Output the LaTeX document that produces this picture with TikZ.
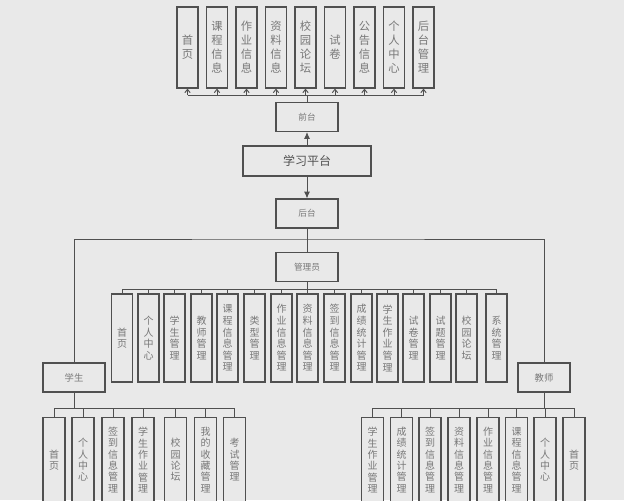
\documentclass[tikz,border=0pt]{standalone}
\usepackage{fontspec}
\setmainfont{Noto Sans CJK SC}
\usetikzlibrary{arrows.meta}
\definecolor{Bggrey}{RGB}{233,233,233}
\definecolor{Linegrey}{RGB}{80,80,80}
\definecolor{Textgrey}{RGB}{120,120,120}

\begin{document}
\begin{tikzpicture}[x=0.75pt,y=-0.75pt,
    box/.style={draw=Linegrey, line width=0.9pt, fill=Bggrey, text=Textgrey, inner sep=0pt, align=center},
    tall/.style={box, minimum width=15.75pt, minimum height=60.75pt, font=\fontsize{8.5}{10.5}\selectfont},
    admcol/.style={box, minimum width=15.75pt, minimum height=66pt, font=\fontsize{7.5}{8.7}\selectfont},
    usrcol/.style={box, minimum width=16.5pt, minimum height=63.75pt, font=\fontsize{7.5}{8.5}\selectfont},
    head/.style={box, minimum width=46.5pt, minimum height=21.75pt, font=\fontsize{6.5}{8}\selectfont},
    link/.style={draw=Linegrey, line width=0.7pt},
    barb/.style={link, -{Straight Barb[length=2.5pt,width=4pt]}},
    main/.style={link, -{Latex[length=5pt,width=4.5pt]}}]
      \useasboundingbox (0,0) rectangle (624,500);
      \clip (0,0) rectangle (624,500);
      \fill[Bggrey] (0,0) rectangle (624,500);

      % front end
      \foreach \lab [count=\i] in {{首\\页},{课\\程\\信\\息},{作\\业\\信\\息},{资\\料\\信\\息},{校\\园\\论\\坛},{试\\卷},{公\\告\\信\\息},{个\\人\\中\\心},{后\\台\\管\\理}}{
          \node[tall] (t\i) at ({187.5+29.5*(\i-1)},47.5) {\lab};
      }
      \node[head] (qt) at (307,117) {前台};
      \node[box, minimum width=96pt, minimum height=22.5pt, text=Linegrey, font=\fontsize{9}{10}\selectfont] (pt) at (307,161) {学习平台};
      \node[head] (ht) at (307,213.5) {后台};
      \coordinate (tbus) at (307,95);
      \draw[link] (qt.north) -- (tbus);
      \draw[link] (t1.south |- tbus) -- (t9.south |- tbus);
      \foreach \i in {1,...,9}{
          \draw[barb] (t\i.south |- tbus) -- (t\i.south);
      }
      \draw[main] (pt.north) -- (qt.south);
      \draw[main] (pt.south) -- (ht.north);

      % back end
      \node[head] (gly) at (307,267) {管理员};
      \node[head, font=\fontsize{7}{8}\selectfont] (xs) at (74,377.5) {学生};
      \node[head, minimum width=39pt, font=\fontsize{7}{8}\selectfont] (js) at (544,377.5) {教师};
      \coordinate (hbus) at (307,239);
      \draw[link] (ht.south) -- (gly.north);
      \draw[link] (xs.north) |- (hbus) -| (js.north);

      % admin
      \foreach \x/\lab [count=\i] in {122/{首\\页},148.5/{个\\人\\中\\心},174.5/{学\\生\\管\\理},201.5/{教\\师\\管\\理},227.5/{课\\程\\信\\息\\管\\理},254.5/{类\\型\\管\\理},281.5/{作\\业\\信\\息\\管\\理},307.5/{资\\料\\信\\息\\管\\理},334.5/{签\\到\\信\\息\\管\\理},361.5/{成\\绩\\统\\计\\管\\理},387.5/{学\\生\\作\\业\\管\\理},413.5/{试\\卷\\管\\理},440.5/{试\\题\\管\\理},466.5/{校\\园\\论\\坛},496.5/{系\\统\\管\\理}}{
          \node[admcol] (a\i) at (\x,338) {\lab};
      }
      \coordinate (abus) at (307,289);
      \draw[link] (gly.south) -- (abus);
      \draw[link] (a1.north |- abus) -- (a15.north |- abus);
      \foreach \i in {1,...,15}{
          \draw[link] (a\i.north |- abus) -- (a\i.north);
      }

      % student
      \foreach \x/\lab [count=\i] in {54/{首\\页},83/{个\\人\\中\\心},113/{签\\到\\信\\息\\管\\理},143/{学\\生\\作\\业\\管\\理},175.5/{校\\园\\论\\坛},205.5/{我\\的\\收\\藏\\管\\理},234.5/{考\\试\\管\\理}}{
          \node[usrcol] (s\i) at (\x,460) {\lab};
      }
      \coordinate (sbus) at (74,408);
      \draw[link] (xs.south) -- (sbus);
      \draw[link] (s1.north |- sbus) -- (s7.north |- sbus);
      \foreach \i in {1,...,7}{
          \draw[link] (s\i.north |- sbus) -- (s\i.north);
      }

      % teacher
      \foreach \x/\lab [count=\i] in {372.5/{学\\生\\作\\业\\管\\理},401.5/{成\\绩\\统\\计\\管\\理},430/{签\\到\\信\\息\\管\\理},459/{资\\料\\信\\息\\管\\理},488/{作\\业\\信\\息\\管\\理},516.5/{课\\程\\信\\息\\管\\理},545/{个\\人\\中\\心},574/{首\\页}}{
          \node[usrcol] (j\i) at (\x,460) {\lab};
      }
      \coordinate (jbus) at (544,408);
      \draw[link] (js.south) -- (jbus);
      \draw[link] (j1.north |- jbus) -- (j8.north |- jbus);
      \foreach \i in {1,...,8}{
          \draw[link] (j\i.north |- jbus) -- (j\i.north);
      }
\end{tikzpicture}
\end{document}
